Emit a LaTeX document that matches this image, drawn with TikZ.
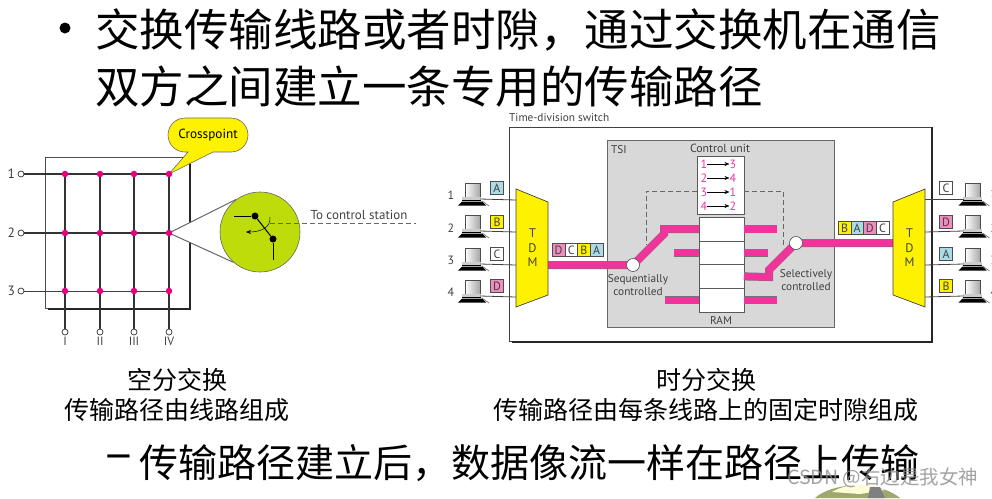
\documentclass[tikz,border=0pt]{standalone}
\usepackage{fontspec}
\setmainfont{PT Sans}
\newfontfamily\cjk{Noto Sans CJK SC}
\usetikzlibrary{arrows.meta,positioning,backgrounds}
\definecolor{hotpink}{HTML}{F0349B}
\definecolor{dotpink}{HTML}{E6007E}
\definecolor{lime}{HTML}{BDDC0A}
\definecolor{pktblue}{HTML}{ABDCE6}
\definecolor{pktpink}{HTML}{F08CBE}
\definecolor{tsigrey}{HTML}{D8D8D8}
\definecolor{hill}{HTML}{9CA86C}
\tikzset{
  pc/.pic={
    \draw[black!70, line width=.7pt, left color=white, right color=black!35] (-7,-7) rectangle (8,7);
    \fill[black!20] (-10,7) rectangle (9,10);
    \draw[black, line width=.7pt] (-10,10) -- (9,10);
    \fill[black] (-14,15.5) -- (-10,11.5) -- (10,11.5) -- (14,15.5) -- cycle;
    \draw[black!60, line width=.6pt] (10,11) -- (17,16);
    \coordinate (-w) at (-9,9);
    \coordinate (-e) at (8,9);
  }
}
\begin{document}
\begin{tikzpicture}[x=1pt, y=-1pt, >={Stealth[length=5pt,width=4pt]},
	   txt/.style={text=black!75, font=\fontsize{11.3}{13.3}\selectfont, align=center, inner sep=0pt},
	   big/.style={anchor=west, inner sep=0pt, font=\cjk\fontsize{44.5}{50}\selectfont},
	   capt/.style={inner sep=0pt, font=\cjk\fontsize{25}{30}\selectfont},
	   xpt/.style={circle, fill=dotpink, minimum size=6.5pt, inner sep=0pt},
	   hole/.style={circle, draw=black!80, fill=white, line width=.7pt, minimum size=6pt, inner sep=0pt},
	   wire/.style={black!80, line width=1.1pt},
	   thin wire/.style={black!75, line width=.8pt},
	   bus/.style={draw=black!55, line width=.4pt, double=hotpink, double distance=7.2pt},
	   pkt/.style={draw=black!70, line width=.6pt, minimum size=12.7pt, inner sep=0pt, outer sep=0pt, text=black!75, font=\fontsize{12}{13}\selectfont},
	   ramcell/.style={draw=black!65, fill=white, line width=.6pt, minimum width=45pt, minimum height=23.7pt, outer sep=0pt},
	   dig/.style={text=hotpink, inner sep=0pt, font=\fontsize{12}{13}\selectfont},
	   ctl/.style={black!60, dashed, dash pattern=on 5pt off 3pt, line width=.8pt},
	   knob/.style={circle, draw=black!70, fill=white, line width=.6pt, minimum size=13pt, inner sep=0pt},
	   tdmbox/.style={draw=black!75, fill=yellow, line width=.7pt}]
	  \useasboundingbox (0,0) rectangle (992,498);
	  % left: crossbar
	  \node[xpt] (x11) at (65,174) {}; \node[xpt] (x12) at (100,174) {}; \node[xpt] (x13) at (134,174) {}; \node[xpt] (x14) at (169,174) {};
	  \node[xpt] (x21) at (65,233) {}; \node[xpt] (x22) at (100,233) {}; \node[xpt] (x23) at (134,233) {}; \node[xpt] (x24) at (169,233) {};
	  \node[xpt] (x31) at (65,291) {}; \node[xpt] (x32) at (100,291) {}; \node[xpt] (x33) at (134,291) {}; \node[xpt] (x34) at (169,291) {};
	  \node[hole] (p1) at (21,174) {}; \node[hole] (p2) at (21,233) {}; \node[hole] (p3) at (21,291) {};
	  \node[hole] (q1) at (65,332) {}; \node[hole] (q2) at (100,332) {}; \node[hole] (q3) at (134,332) {}; \node[hole] (q4) at (169,332) {};
	  \node[txt, font=\fontsize{13.5}{15}\selectfont, left=2.5pt of p1] (n1) {1};
	  \node[txt, font=\fontsize{13.5}{15}\selectfont, left=2.5pt of p2] (n2) {2};
	  \node[txt, font=\fontsize{13.5}{15}\selectfont, left=2.5pt of p3] (n3) {3};
	  \node[txt, font=\fontsize{12}{14}\selectfont, below=2pt of q1] (r1) {I}; \node[txt, font=\fontsize{12}{14}\selectfont, below=2pt of q2] (r2) {II};
	  \node[txt, font=\fontsize{12}{14}\selectfont, below=2pt of q3] (r3) {III}; \node[txt, font=\fontsize{12}{14}\selectfont, below=2pt of q4] (r4) {IV};
	  \node[circle, draw=black!60, fill=lime, line width=.6pt, minimum size=80pt, inner sep=0pt] (mag) at (260,232) {};
	  \begin{scope}[on background layer]
	    \draw[black!70, line width=.6pt] (45,157) rectangle (190,308);
	    \draw[black!85, line width=2pt] (190,157) -- (190,309) -- (48,309);
	    \draw[wire] (p1) -- (x14); \draw[wire] (p2) -- (x24); \draw[thin wire] (p3) -- (x34);
	    \draw[wire] (x11) -- (q1); \draw[wire] (x12) -- (q2); \draw[wire] (x13) -- (q3); \draw[wire] (x14) -- (q4);
	    \fill[white] (x24.center) -- (mag.126) -- (mag.229) -- cycle;
	    \draw[black!60, line width=1pt] (mag.126) -- (x24.center) -- (mag.229);
	  \end{scope}
	  \node[circle, fill=black, minimum size=7pt, inner sep=0pt] (sa) at (255,216) {};
	  \node[circle, fill=black, minimum size=7pt, inner sep=0pt] (sb) at (273,239) {};
	  \coordinate (sin) at (234,216); \coordinate (sout) at (273,260);
	  \coordinate (arcA) at (270,217); \coordinate (arcB) at (246,232);
	  \coordinate (ctlA) at (270,223); \coordinate (ctlB) at (416,223);
	  \draw[black, line width=1pt] (sin) -- (sa); \draw[black, line width=1pt] (sa) -- (sb); \draw[black, line width=1pt] (sb) -- (sout);
	  \draw[->, black, line width=.5pt] (arcA) .. controls (271,228) and (260,232) .. (arcB);
	  \draw[ctl] (ctlA) -- (ctlB);
	  \node[txt, font=\fontsize{13}{15}\selectfont] (toctl) at (359,215) {To control station};
	  \node[txt, text=black, font=\fontsize{13.2}{15}\selectfont] (cross) at (208,135) {Crosspoint};
	  \begin{scope}[on background layer]
	    \draw[draw=black!60, fill=yellow, line width=.6pt, rounded corners=17pt] (168,118) -- (248,118) -- (248,152) [sharp corners] -- (213,152) -- (x14.center) -- (188,152) [rounded corners=17pt] -- (168,152) -- cycle;
	  \end{scope}
	  % right: time-division switch
	  \node[txt, anchor=west] (tds) at (509,118) {Time-division switch};
	  \draw[black!75, line width=.7pt] (509,127) rectangle (932,341);
	  \draw[black!85, line width=1.6pt] (932,127) -- (932,342) -- (512,342);
	  \draw[draw=black!60, fill=tsigrey, line width=.6pt] (607,140) rectangle (834,327);
	  \node[txt, anchor=west] (tsi) at (611,150) {TSI};
	  \node[txt, font=\fontsize{11.8}{14}\selectfont] (unit) at (720,148) {Control unit};
	  \node[draw=black!65, fill=white, line width=.6pt, minimum width=47pt, minimum height=58pt, outer sep=0pt] (ctrl) at (720.5,185) {};
	  \node[ramcell] (ram1) at (721.5,229) {};
	  \node[ramcell, below=0pt of ram1] (ram2) {};
	  \node[ramcell, below=0pt of ram2] (ram3) {};
	  \node[ramcell, below=0pt of ram3] (ram4) {};
	  \node[txt] (ramtxt) at (721,320) {RAM};
	  \node[dig] (a1) at (704,164) {1}; \node[dig, right=22pt of a1] (b1) {3}; \draw[->, black, line width=.5pt] (a1) -- (b1);
	  \node[dig] (a2) at (704,178) {2}; \node[dig, right=22pt of a2] (b2) {4}; \draw[->, black, line width=.5pt] (a2) -- (b2);
	  \node[dig] (a3) at (704,192) {3}; \node[dig, right=22pt of a3] (b3) {1}; \draw[->, black, line width=.5pt] (a3) -- (b3);
	  \node[dig] (a4) at (704,206) {4}; \node[dig, right=22pt of a4] (b4) {2}; \draw[->, black, line width=.5pt] (a4) -- (b4);
	  \coordinate (dlA) at (697,191); \coordinate (dlB) at (646,191); \coordinate (dlC) at (646,245);
	  \coordinate (drA) at (744,191); \coordinate (drB) at (783,191); \coordinate (drC) at (783,245);
	  \draw[ctl] (dlA) -- (dlB) -- (dlC); \draw[ctl] (drA) -- (drB) -- (drC);
	  \coordinate (tdmLa) at (516,189); \coordinate (tdmLb) at (548,202); \coordinate (tdmLc) at (548,295); \coordinate (tdmLd) at (516,307);
	  \coordinate (tdmRa) at (925,189); \coordinate (tdmRb) at (893,202); \coordinate (tdmRc) at (893,295); \coordinate (tdmRd) at (925,307);
	  \pic (pl1) at (472,190) {pc}; \pic (pl2) at (472,222) {pc}; \pic (pl3) at (472,255) {pc}; \pic (pl4) at (472,287) {pc};
	  \pic (pr1) at (972.5,190) {pc}; \pic (pr2) at (972.5,222) {pc}; \pic (pr3) at (972.5,255) {pc}; \pic (pr4) at (972.5,287) {pc};
	  \coordinate (il1) at (516,200); \coordinate (il2) at (516,232); \coordinate (il3) at (516,265); \coordinate (il4) at (516,297);
	  \coordinate (ir1) at (925,199); \coordinate (ir2) at (925,232); \coordinate (ir3) at (925,265); \coordinate (ir4) at (925,297);
	  \draw[thin wire] (pl1-e) -- (il1); \draw[thin wire] (pl2-e) -- (il2); \draw[thin wire] (pl3-e) -- (il3); \draw[thin wire] (pl4-e) -- (il4);
	  \draw[thin wire] (pr1-w) -- (ir1); \draw[thin wire] (pr2-w) -- (ir2); \draw[thin wire] (pr3-w) -- (ir3); \draw[thin wire] (pr4-w) -- (ir4);
	  \node[txt, font=\fontsize{12}{14}\selectfont] (nl1) at (451,195) {1}; \node[txt, font=\fontsize{12}{14}\selectfont] (nl2) at (451,228) {2};
	  \node[txt, font=\fontsize{12}{14}\selectfont] (nl3) at (451,260) {3}; \node[txt, font=\fontsize{12}{14}\selectfont] (nl4) at (451,292) {4};
	  \node[txt, font=\fontsize{12}{14}\selectfont] (nr1) at (994,193) {1}; \node[txt, font=\fontsize{12}{14}\selectfont] (nr2) at (994,228) {2};
	  \node[txt, font=\fontsize{12}{14}\selectfont] (nr3) at (994,260) {3}; \node[txt, font=\fontsize{12}{14}\selectfont] (nr4) at (994,292) {4};
	  \node[pkt, fill=pktblue] (la) at (497,188) {A}; \node[pkt, fill=yellow] (lb) at (497,222) {B};
	  \node[pkt, fill=white] (lc) at (497,254) {C}; \node[pkt, fill=pktpink] (ld) at (497,286) {D};
	  \node[pkt, fill=white] (rc) at (946,188) {C}; \node[pkt, fill=pktpink] (rd) at (946,222) {D};
	  \node[pkt, fill=pktblue] (ra) at (946,254) {A}; \node[pkt, fill=yellow] (rb) at (946,286) {B};
	  \draw[bus] (ram2.west) -- ++(-25,0); \draw[bus] (ram4.west) -- ++(-34,0);
	  \draw[bus] (ram1.east) -- ++(33,0); \draw[bus] (ram2.east) -- ++(24,0); \draw[bus] (ram4.east) -- ++(33,0);
	  \coordinate (hubL) at (633,265); \coordinate (hubR) at (796,243);
	  \draw[bus] (tdmLb |- hubL) -- (hubL) -- (664,234) -- (664,229) -- (ram1.west);
	  \draw[bus] (tdmRb |- hubR) -- (hubR) -- (769,270) -- (769,277) -- (ram3.east);
	  \node[knob] (swL) at (hubL) {};
	  \node[knob] (swR) at (hubR) {};
	  \draw[tdmbox] (tdmLa) -- (tdmLb) -- (tdmLc) -- (tdmLd) -- cycle;
	  \draw[tdmbox] (tdmRa) -- (tdmRb) -- (tdmRc) -- (tdmRd) -- cycle;
	  \node[txt, font=\fontsize{12.5}{14.5}\selectfont] (tdmL) at (532.5,248) {T\\D\\M};
	  \node[txt, font=\fontsize{12.5}{14.5}\selectfont] (tdmR) at (909.5,248) {T\\D\\M};
	  \node[pkt, fill=pktpink] (pd) at (558.5,250) {D};
	  \node[pkt, fill=white, right=0pt of pd] (pc) {C};
	  \node[pkt, fill=yellow, right=0pt of pc] (pb) {B};
	  \node[pkt, fill=pktblue, right=0pt of pb] (pa) {A};
	  \node[pkt, fill=yellow] (sb1) at (844.5,228) {B};
	  \node[pkt, fill=pktblue, right=0pt of sb1] (sa1) {A};
	  \node[pkt, fill=pktpink, right=0pt of sa1] (sd1) {D};
	  \node[pkt, fill=white, right=0pt of sd1] (sc1) {C};
	  \node[txt] (seq) at (638,285) {Sequentially\\ controlled};
	  \node[txt] (sel) at (806,280) {Selectively\\ controlled};
	  % text
	  \fill[black] (65,28) circle (5.5);
	  \node[big] (t1) at (95,30) {交换传输线路或者时隙，通过交换机在通信};
	  \node[big] (t2) at (95,87) {双方之间建立一条专用的传输路径};
	  \node[capt] (c1) at (177,380) {空分交换};
	  \node[capt] (c2) at (177,410) {传输路径由线路组成};
	  \node[capt] (c3) at (706,380) {时分交换};
	  \node[capt] (c4) at (706,410) {传输路径由每条线路上的固定时隙组成};
	  \node[anchor=west, inner sep=0pt, font=\cjk\fontsize{50}{50}\selectfont] (t3) at (105,463) {–};
	  \begin{scope}[on background layer]
	    \fill[hill] (815,498) .. controls (830,484) and (875,478) .. (900,498) -- cycle;
	    \fill[yellow!15!white] (832,492) .. controls (845,484) and (865,482) .. (885,490) -- (860,494) -- cycle;
	    \fill[black!50] (868,498) -- (870,487) -- (880,487) -- (885,498) -- cycle;
	  \end{scope}
	  \node[anchor=west, inner sep=0pt, font=\cjk\fontsize{39}{44}\selectfont] (t4) at (139,463) {传输路径建立后，数据像流一样在路径上传输};
	  \node[anchor=west, inner sep=0pt, text=black!45, opacity=.8, font=\cjk\fontsize{19.5}{22}\selectfont] (wm) at (787,478) {CSDN @右边是我女神};
	\end{tikzpicture}
\end{document}
